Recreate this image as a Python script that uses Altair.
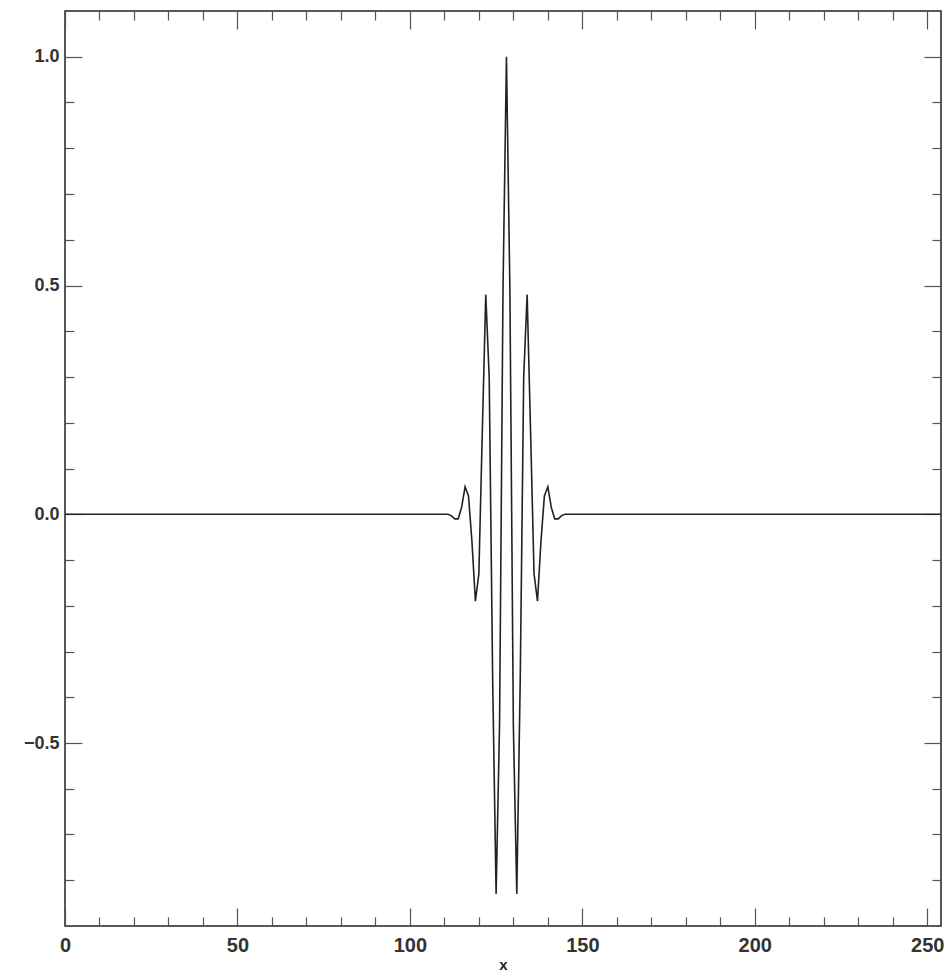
import altair as alt
import pandas as pd

# ---- data ----
x_first = 0
x_last = 255
pulse_start = 112          # first sample of the wavelet
pulse_values = [
    -0.003, -0.01, -0.01, 0.015, 0.06, 0.04, -0.06, -0.19, -0.13,
    0.18, 0.48, 0.30, -0.36, -0.83, -0.46, 0.49,
    1.00,
    0.49, -0.46, -0.83, -0.36, 0.30, 0.48, 0.18,
    -0.13, -0.19, -0.06, 0.04, 0.06, 0.015, -0.01, -0.01, -0.003,
]

x_major = [0, 50, 100, 150, 200, 250]
x_minor = [10, 20, 30, 40, 60, 70, 80, 90, 110, 120, 130, 140,
           160, 170, 180, 190, 210, 220, 230, 240]
y_major = [-0.5, 0.0, 0.5, 1.0]
y_minor = [-0.8, -0.7, -0.6, -0.4, -0.3, -0.2, -0.1,
           0.1, 0.2, 0.3, 0.4, 0.6, 0.7, 0.8, 0.9]

xs = list(range(x_first, x_last + 1))
ys = []
for xv in xs:
    i = xv - pulse_start
    ys.append(pulse_values[i] if 0 <= i < len(pulse_values) else 0.0)
df = pd.DataFrame({"x": xs, "y": ys})

# ---- layout ----
W, H = 876, 915
FONT = "Liberation Sans"
TICK = "#555555"

x_scale = alt.Scale(domain=[0, 254], nice=False, zero=False)
y_scale = alt.Scale(domain=[-0.9, 1.1], nice=False, zero=False)

def xaxis(orient, values, size, labels=False, title=None, **kw):
    return alt.Axis(orient=orient, values=values, tickSize=size, offset=-size,
                    domain=False, grid=False, labels=labels, title=title,
                    tickColor=TICK, tickWidth=1.2, **kw)

base = alt.Chart(df)

main = base.mark_line(color="#222222", strokeWidth=1.6, clip=True).encode(
    x=alt.X("x:Q", scale=x_scale,
            axis=xaxis("bottom", x_major, 18, labels=True, title="x",
                       format="d", labelPadding=9, labelFont=FONT,
                       labelFontSize=20, labelFontWeight="bold",
                       labelColor="#333333", labelFlush=False,
                       titleFont=FONT, titleFontSize=15,
                       titleFontWeight="bold", titleColor="#222222",
                       titleBaseline="alphabetic", titleY=61)),
    y=alt.Y("y:Q", scale=y_scale,
            axis=alt.Axis(orient="left", values=y_major, tickSize=17,
                          offset=-17, domain=False, grid=False,
                          format=".1f", labelPadding=6, labelFont=FONT,
                          labelFontSize=18, labelFontWeight="bold",
                          labelColor="#333333", labelFlush=False,
                          tickColor=TICK, tickWidth=1.2, title=None)),
)

def tick_layer(xo, xv, xs_, yo, yv, ys_):
    return base.mark_line(opacity=0).encode(
        x=alt.X("x:Q", scale=x_scale, axis=xaxis(xo, xv, xs_)),
        y=alt.Y("y:Q", scale=y_scale,
                axis=alt.Axis(orient=yo, values=yv, tickSize=ys_,
                              offset=-ys_, domain=False, grid=False,
                              labels=False, title=None,
                              tickColor=TICK, tickWidth=1.2)),
    )

layer_b = tick_layer("bottom", x_minor, 9, "left", y_minor, 9)
layer_c = tick_layer("top", x_major, 18, "right", y_major, 17)
layer_d = tick_layer("top", x_minor, 9, "right", y_minor, 9)

chart = alt.layer(main, layer_b, layer_c, layer_d).resolve_axis(
    x="independent", y="independent"
).properties(
    width=W, height=H,
    autosize=alt.AutoSizeParams(type="none"),
    padding={"left": 65, "top": 11, "right": 3, "bottom": 48},
    background="white",
).configure_view(stroke="#222222", strokeWidth=1.5)

chart.save("out.html", embed_options={"renderer": "svg", "actions": False})
